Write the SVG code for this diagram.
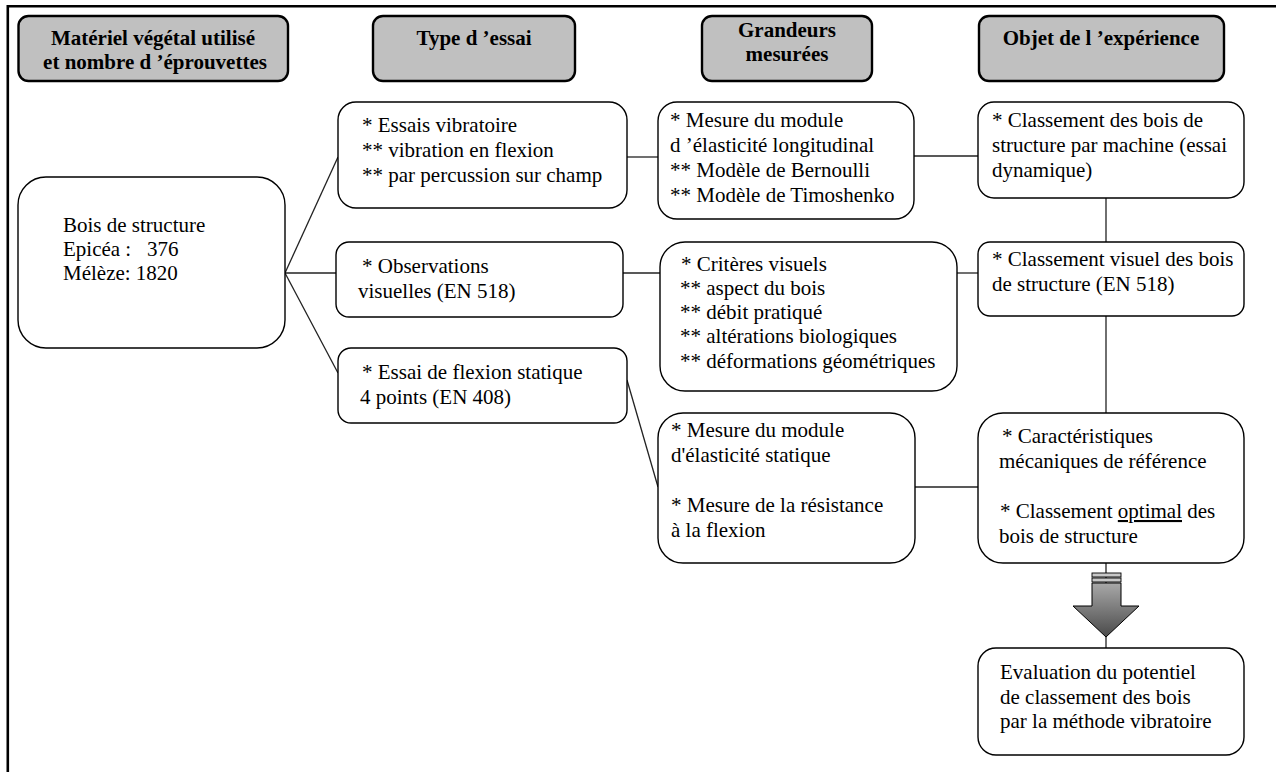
<svg xmlns="http://www.w3.org/2000/svg" width="1276" height="772" viewBox="0 0 1276 772">
<style>
.t{font-family:"Liberation Serif","Times New Roman",serif;font-size:21px;fill:#000}
.h{font-weight:bold;text-anchor:middle}
.hb{fill:#c0c0c0;stroke:#000;stroke-width:2.4}
.b{fill:#fff;stroke:#000;stroke-width:1.4}
.c{stroke:#222;stroke-width:1.3;fill:none}
.fr{stroke:#000;stroke-width:2.6;fill:none}
</style>
<defs>
<linearGradient id="ag" x1="0" y1="583" x2="0" y2="637" gradientUnits="userSpaceOnUse">
<stop offset="0" stop-color="#a8a8a8"/>
<stop offset="1" stop-color="#4a4a4a"/>
</linearGradient>
</defs>
<rect width="1276" height="772" fill="#fff"/>
<path class="fr" d="M7.8,772 V6.3 H1276"/>

<g id="h1"><rect class="hb" x="18.5" y="16" width="269.5" height="65" rx="10"/>
<text class="t h" x="153" y="45">Matériel végétal utilisé</text>
<text class="t h" x="155" y="69">et nombre d ’éprouvettes</text></g>
<g id="h2"><rect class="hb" x="373" y="16" width="202" height="65" rx="10"/>
<text class="t h" x="474" y="45">Type d ’essai</text></g>
<g id="h3"><rect class="hb" x="702" y="16" width="170" height="65" rx="10"/>
<text class="t h" x="787" y="37">Grandeurs</text>
<text class="t h" x="787" y="61">mesurées</text></g>
<g id="h4"><rect class="hb" x="979" y="16" width="245" height="65" rx="10"/>
<text class="t h" x="1101" y="45">Objet de l ’expérience</text></g>

<g id="connectors">
<line class="c" x1="285" y1="273" x2="338" y2="157"/>
<line class="c" x1="285" y1="273" x2="336" y2="273"/>
<line class="c" x1="285" y1="273" x2="338" y2="373"/>
<line class="c" x1="627" y1="157" x2="658" y2="157"/>
<line class="c" x1="623" y1="273" x2="660" y2="273"/>
<line class="c" x1="627" y1="380" x2="658" y2="487"/>
<line class="c" x1="914" y1="156" x2="978" y2="156"/>
<line class="c" x1="957" y1="273" x2="978" y2="273"/>
<line class="c" x1="1106" y1="198" x2="1106" y2="242"/>
<line class="c" x1="1106" y1="316" x2="1106" y2="413"/>
<line class="c" x1="915" y1="487" x2="978" y2="487"/>
<line class="c" x1="1106" y1="563" x2="1106" y2="648"/>
<g id="bigarrow">
<rect x="1092" y="573" width="29" height="4" fill="#c8c8c8" stroke="#000" stroke-width="0.9"/>
<rect x="1092" y="578" width="29" height="4" fill="#c8c8c8" stroke="#000" stroke-width="0.9"/>
<path d="M1092,583 H1121 V606 H1139 L1106,637 L1073,606 H1092 Z" fill="url(#ag)" stroke="#000" stroke-width="1"/>
</g>
</g>

<g id="bois"><rect class="b" x="18" y="177" width="267" height="171" rx="28"/>
<text class="t" x="63" y="232">Bois de structure</text>
<text class="t" x="63" y="256" xml:space="preserve">Epicéa :   376</text>
<text class="t" x="63" y="280">Mélèze: 1820</text></g>

<g id="essais"><rect class="b" x="338" y="102" width="289" height="106" rx="18"/>
<text class="t" x="362" y="132">* Essais vibratoire</text>
<text class="t" x="362" y="157">** vibration en flexion</text>
<text class="t" x="362" y="182">** par percussion sur champ</text></g>

<g id="observations"><rect class="b" x="336" y="242" width="287" height="75" rx="13"/>
<text class="t" x="362" y="273">* Observations</text>
<text class="t" x="358" y="298">visuelles (EN 518)</text></g>

<g id="flexion"><rect class="b" x="338" y="348" width="289" height="75" rx="13"/>
<text class="t" x="362" y="379">* Essai de flexion statique</text>
<text class="t" x="360" y="404">4 points (EN 408)</text></g>

<g id="mesure-dyn"><rect class="b" x="658" y="102" width="256" height="117" rx="19"/>
<text class="t" x="670" y="127">* Mesure du module</text>
<text class="t" x="670" y="152">d ’élasticité longitudinal</text>
<text class="t" x="670" y="177">** Modèle de Bernoulli</text>
<text class="t" x="670" y="202">** Modèle de Timoshenko</text></g>

<g id="criteres"><rect class="b" x="660" y="242" width="297" height="149" rx="25"/>
<text class="t" x="681" y="271">* Critères visuels</text>
<text class="t" x="680" y="295">** aspect du bois</text>
<text class="t" x="680" y="319">** débit pratiqué</text>
<text class="t" x="680" y="343">** altérations biologiques</text>
<text class="t" x="680" y="368">** déformations géométriques</text></g>

<g id="mesure-stat"><rect class="b" x="658" y="413" width="257" height="150" rx="25"/>
<text class="t" x="671" y="437">* Mesure du module</text>
<text class="t" x="671" y="462">d'élasticité statique</text>
<text class="t" x="671" y="512">* Mesure de la résistance</text>
<text class="t" x="671" y="537">à la flexion</text></g>

<g id="classement-machine"><rect class="b" x="978" y="102" width="266" height="96" rx="16"/>
<text class="t" x="992" y="127">* Classement des bois de</text>
<text class="t" x="992" y="152">structure par machine (essai</text>
<text class="t" x="992" y="177">dynamique)</text></g>

<g id="classement-visuel"><rect class="b" x="978" y="242" width="266" height="74" rx="12"/>
<text class="t" x="992" y="266">* Classement visuel des bois</text>
<text class="t" x="992" y="291">de structure (EN 518)</text></g>

<g id="caracteristiques"><rect class="b" x="978" y="413" width="266" height="150" rx="25"/>
<text class="t" x="1002" y="443">* Caractéristiques</text>
<text class="t" x="999" y="468">mécaniques de référence</text>
<text class="t" x="1000" y="518">* Classement <tspan style="text-decoration:underline">optimal</tspan> des</text>
<text class="t" x="999" y="543">bois de structure</text></g>

<g id="evaluation"><rect class="b" x="978" y="648" width="266" height="107" rx="18"/>
<text class="t" x="1000" y="679">Evaluation du potentiel</text>
<text class="t" x="1000" y="704">de classement des bois</text>
<text class="t" x="1000" y="728">par la méthode vibratoire</text></g>
</svg>
